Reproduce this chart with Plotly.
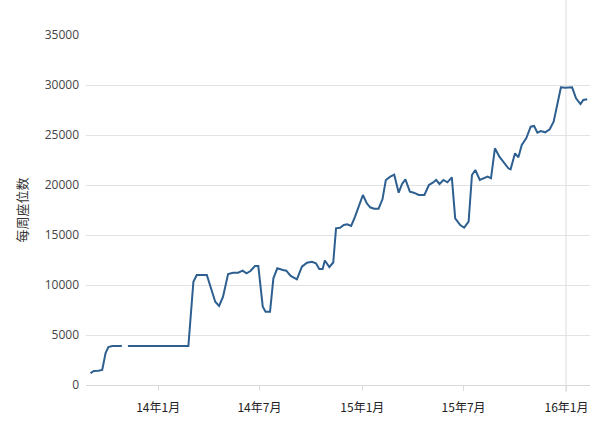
import plotly.graph_objects as go

dates = [
    "2013-09-02", "2013-09-08", "2013-09-16", "2013-09-23", "2013-09-29", "2013-10-04",
    "2013-10-11", "2013-10-18", "2013-10-28", "2013-11-02", "2013-11-08", "2013-12-15",
    "2014-01-20", "2014-02-24", "2014-03-05", "2014-03-11", "2014-03-20", "2014-03-29",
    "2014-04-13", "2014-04-20", "2014-04-27", "2014-05-06", "2014-05-15", "2014-05-24",
    "2014-06-01", "2014-06-08", "2014-06-15", "2014-06-23", "2014-06-29", "2014-07-07",
    "2014-07-12", "2014-07-20", "2014-07-26", "2014-08-02", "2014-08-12", "2014-08-18",
    "2014-08-26", "2014-09-06", "2014-09-15", "2014-09-24", "2014-10-03", "2014-10-10",
    "2014-10-16", "2014-10-22", "2014-10-26", "2014-11-03", "2014-11-10", "2014-11-15",
    "2014-11-22", "2014-11-29", "2014-12-05", "2014-12-12", "2014-12-19", "2014-12-25",
    "2015-01-02", "2015-01-09", "2015-01-15", "2015-01-22", "2015-01-30", "2015-02-06",
    "2015-02-12", "2015-02-20", "2015-02-27", "2015-03-07", "2015-03-13", "2015-03-19",
    "2015-03-27", "2015-04-03", "2015-04-12", "2015-04-22", "2015-04-30", "2015-05-07",
    "2015-05-13", "2015-05-19", "2015-05-26", "2015-06-02", "2015-06-10", "2015-06-16",
    "2015-06-25", "2015-07-02", "2015-07-10", "2015-07-16", "2015-07-22", "2015-07-30",
    "2015-08-06", "2015-08-13", "2015-08-19", "2015-08-26", "2015-09-03", "2015-09-11",
    "2015-09-19", "2015-09-23", "2015-10-01", "2015-10-07", "2015-10-13", "2015-10-21",
    "2015-10-29", "2015-11-04", "2015-11-10", "2015-11-16", "2015-11-24", "2015-12-02",
    "2015-12-09", "2015-12-16", "2015-12-22", "2015-12-30", "2016-01-05", "2016-01-11",
    "2016-01-18", "2016-01-26", "2016-01-31", "2016-02-07",
]

seats = [
    1170, 1400, 1430, 1500, 3200, 3800,
    3900, 3900, 3900, None, 3900, 3900,
    3900, 3900, 10330, 11000, 11000, 11000,
    8330, 7900, 8830, 11100, 11230, 11230,
    11430, 11170, 11400, 11900, 11900, 7830,
    7330, 7330, 10670, 11670, 11500, 11430,
    10900, 10570, 11830, 12230, 12330, 12170,
    11600, 11600, 12450, 11800, 12250, 15670,
    15730, 16000, 16070, 15900, 16830, 17730,
    19000, 18170, 17770, 17630, 17630, 18570,
    20500, 20830, 21030, 19230, 20100, 20570,
    19330, 19230, 19000, 19000, 20000, 20230,
    20500, 20100, 20500, 20270, 20770, 16670,
    16000, 15730, 16330, 21000, 21500, 20500,
    20670, 20830, 20670, 23670, 22830, 22230,
    21670, 21570, 23170, 22770, 24000, 24670,
    25830, 25900, 25230, 25400, 25270, 25570,
    26330, 28170, 29770, 29730, 29770, 29770,
    28670, 28100, 28500, 28570,
]

tick_dates = ["2014-01-01", "2014-07-01", "2015-01-01", "2015-07-01", "2016-01-01"]
tick_labels = ["14年1月", "14年7月", "15年1月", "15年7月", "16年1月"]
y_ticks = [0, 5000, 10000, 15000, 20000, 25000, 30000, 35000]
y_labels = ["0", "5000", "10000", "15000", "20000", "25000", "30000", "35000"]

fig = go.Figure()
fig.add_trace(go.Scatter(
    x=dates, y=seats, mode="lines", connectgaps=False,
    line=dict(color="#2d5f90", width=2),
    showlegend=False,
))

fig.add_shape(type="line", xref="x", yref="paper",
              x0="2015-12-31", x1="2015-12-31", y0=-0.02, y1=1.12,
              line=dict(color="#dedede", width=1), layer="below")

fig.update_layout(
    width=600, height=423,
    margin=dict(l=86, r=10, t=35, b=38),
    paper_bgcolor="white", plot_bgcolor="white",
    font=dict(family="Open Sans, Noto Sans CJK SC, sans-serif", color="#444444", size=12),
    xaxis=dict(
        range=["2013-08-25", "2016-02-12"],
        tickvals=tick_dates, ticktext=tick_labels,
        showgrid=False, zeroline=False, showline=False,
        ticks="outside", ticklen=5, tickcolor="#dddddd",
        ticklabelstandoff=7, automargin=False,
        tickfont=dict(family="Noto Sans CJK SC, sans-serif", size=12, color="#222222"),
    ),
    yaxis=dict(
        range=[0, 35000], tickvals=y_ticks, ticktext=y_labels,
        showgrid=True, gridcolor="#e3e3e3", gridwidth=1,
        zeroline=True, zerolinecolor="#d8d8d8", zerolinewidth=1,
        ticks="", ticklabelstandoff=6, automargin=False,
        tickfont=dict(size=12, color="#444444"),
        title=dict(text="每周座位数", standoff=14,
                   font=dict(family="Noto Sans CJK SC, sans-serif", size=13, color="#333333")),
    ),
)

fig.write_html("out.html", post_script="document.body.style.margin='0';",
               config={"displayModeBar": False})
